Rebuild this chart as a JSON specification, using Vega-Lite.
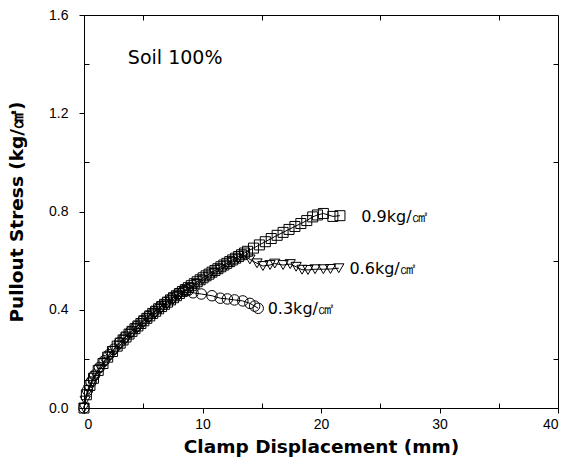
{
  "$schema": "https://vega.github.io/schema/vega-lite/v6.json",
  "width": 474,
  "height": 393,
  "autosize": {"type": "none"},
  "padding": {"left": 84, "top": 15, "right": 6, "bottom": 57},
  "background": "white",
  "config": {
    "view": {"stroke": "black", "strokeWidth": 1},
    "axis": {"domainColor": "black", "tickColor": "black", "labelColor": "black", "titleColor": "black", "grid": false, "labelFont": "Liberation Sans", "labelFontSize": 14, "titleFont": "DejaVu Sans", "titleFontSize": 18.5, "titleFontWeight": "bold"}
  },
  "datasets": {
    "curves": [
      {"series": "0.9", "x": 0, "y": 0}, {"series": "0.9", "x": 0.2, "y": 0.054}, {"series": "0.9", "x": 0.5, "y": 0.092}, {"series": "0.9", "x": 0.8, "y": 0.121}, {"series": "0.9", "x": 1.2, "y": 0.153}, {"series": "0.9", "x": 1.6, "y": 0.181}, {"series": "0.9", "x": 2.0, "y": 0.207}, {"series": "0.9", "x": 2.4, "y": 0.230}, {"series": "0.9", "x": 2.8, "y": 0.252}, {"series": "0.9", "x": 3.05, "y": 0.264}, {"series": "0.9", "x": 3.3, "y": 0.277}, {"series": "0.9", "x": 3.55, "y": 0.289}, {"series": "0.9", "x": 3.8, "y": 0.301}, {"series": "0.9", "x": 4.05, "y": 0.312}, {"series": "0.9", "x": 4.3, "y": 0.323}, {"series": "0.9", "x": 4.55, "y": 0.334}, {"series": "0.9", "x": 4.8, "y": 0.344}, {"series": "0.9", "x": 5.05, "y": 0.355}, {"series": "0.9", "x": 5.3, "y": 0.365}, {"series": "0.9", "x": 5.55, "y": 0.375}, {"series": "0.9", "x": 5.8, "y": 0.385}, {"series": "0.9", "x": 6.05, "y": 0.394}, {"series": "0.9", "x": 6.3, "y": 0.404}, {"series": "0.9", "x": 6.55, "y": 0.413}, {"series": "0.9", "x": 6.8, "y": 0.422}, {"series": "0.9", "x": 7.05, "y": 0.431}, {"series": "0.9", "x": 7.3, "y": 0.440}, {"series": "0.9", "x": 7.55, "y": 0.449}, {"series": "0.9", "x": 7.8, "y": 0.457}, {"series": "0.9", "x": 8.05, "y": 0.466}, {"series": "0.9", "x": 8.3, "y": 0.474}, {"series": "0.9", "x": 8.55, "y": 0.482}, {"series": "0.9", "x": 8.8, "y": 0.490}, {"series": "0.9", "x": 9.05, "y": 0.498}, {"series": "0.9", "x": 9.3, "y": 0.506}, {"series": "0.9", "x": 9.55, "y": 0.514}, {"series": "0.9", "x": 9.8, "y": 0.522}, {"series": "0.9", "x": 10.05, "y": 0.530}, {"series": "0.9", "x": 10.3, "y": 0.538}, {"series": "0.9", "x": 10.55, "y": 0.545}, {"series": "0.9", "x": 10.8, "y": 0.553}, {"series": "0.9", "x": 11.05, "y": 0.560}, {"series": "0.9", "x": 11.3, "y": 0.567}, {"series": "0.9", "x": 11.55, "y": 0.575}, {"series": "0.9", "x": 11.8, "y": 0.582}, {"series": "0.9", "x": 12.05, "y": 0.589}, {"series": "0.9", "x": 12.3, "y": 0.596}, {"series": "0.9", "x": 12.55, "y": 0.603}, {"series": "0.9", "x": 12.8, "y": 0.610}, {"series": "0.9", "x": 13.05, "y": 0.617}, {"series": "0.9", "x": 13.3, "y": 0.624}, {"series": "0.9", "x": 13.55, "y": 0.631}, {"series": "0.9", "x": 13.8, "y": 0.638}, {"series": "0.9", "x": 14.3, "y": 0.651}, {"series": "0.9", "x": 14.8, "y": 0.664}, {"series": "0.9", "x": 15.3, "y": 0.677}, {"series": "0.9", "x": 15.8, "y": 0.690}, {"series": "0.9", "x": 16.3, "y": 0.703}, {"series": "0.9", "x": 16.8, "y": 0.715}, {"series": "0.9", "x": 17.3, "y": 0.727}, {"series": "0.9", "x": 17.8, "y": 0.739}, {"series": "0.9", "x": 18.3, "y": 0.751}, {"series": "0.9", "x": 18.8, "y": 0.763}, {"series": "0.9", "x": 19.3, "y": 0.778}, {"series": "0.9", "x": 19.7, "y": 0.786}, {"series": "0.9", "x": 20.2, "y": 0.792}, {"series": "0.9", "x": 21.0, "y": 0.780}, {"series": "0.9", "x": 21.6, "y": 0.783},
      {"series": "0.6", "x": 0, "y": 0}, {"series": "0.6", "x": 0.1, "y": 0.030}, {"series": "0.6", "x": 0.4, "y": 0.073}, {"series": "0.6", "x": 0.7, "y": 0.104}, {"series": "0.6", "x": 1.0, "y": 0.130}, {"series": "0.6", "x": 1.4, "y": 0.160}, {"series": "0.6", "x": 1.8, "y": 0.186}, {"series": "0.6", "x": 2.2, "y": 0.211}, {"series": "0.6", "x": 2.6, "y": 0.233}, {"series": "0.6", "x": 3.0, "y": 0.254}, {"series": "0.6", "x": 3.5, "y": 0.278}, {"series": "0.6", "x": 4.0, "y": 0.302}, {"series": "0.6", "x": 4.5, "y": 0.324}, {"series": "0.6", "x": 5.0, "y": 0.345}, {"series": "0.6", "x": 5.5, "y": 0.365}, {"series": "0.6", "x": 6.0, "y": 0.384}, {"series": "0.6", "x": 6.5, "y": 0.403}, {"series": "0.6", "x": 7.0, "y": 0.421}, {"series": "0.6", "x": 7.5, "y": 0.439}, {"series": "0.6", "x": 8.0, "y": 0.456}, {"series": "0.6", "x": 8.5, "y": 0.473}, {"series": "0.6", "x": 9.0, "y": 0.489}, {"series": "0.6", "x": 9.5, "y": 0.505}, {"series": "0.6", "x": 10.0, "y": 0.520}, {"series": "0.6", "x": 10.5, "y": 0.535}, {"series": "0.6", "x": 11.0, "y": 0.550}, {"series": "0.6", "x": 11.5, "y": 0.565}, {"series": "0.6", "x": 12.0, "y": 0.580}, {"series": "0.6", "x": 12.5, "y": 0.594}, {"series": "0.6", "x": 13.0, "y": 0.608}, {"series": "0.6", "x": 13.5, "y": 0.621}, {"series": "0.6", "x": 14.0, "y": 0.605}, {"series": "0.6", "x": 14.6, "y": 0.589}, {"series": "0.6", "x": 15.1, "y": 0.578}, {"series": "0.6", "x": 15.7, "y": 0.582}, {"series": "0.6", "x": 16.1, "y": 0.588}, {"series": "0.6", "x": 16.8, "y": 0.582}, {"series": "0.6", "x": 17.4, "y": 0.586}, {"series": "0.6", "x": 17.9, "y": 0.575}, {"series": "0.6", "x": 18.4, "y": 0.563}, {"series": "0.6", "x": 18.9, "y": 0.562}, {"series": "0.6", "x": 19.5, "y": 0.565}, {"series": "0.6", "x": 20.2, "y": 0.565}, {"series": "0.6", "x": 20.8, "y": 0.566}, {"series": "0.6", "x": 21.5, "y": 0.569},
      {"series": "0.3", "x": 0, "y": 0}, {"series": "0.3", "x": 0.3, "y": 0.072}, {"series": "0.3", "x": 0.6, "y": 0.106}, {"series": "0.3", "x": 0.9, "y": 0.134}, {"series": "0.3", "x": 1.3, "y": 0.165}, {"series": "0.3", "x": 1.7, "y": 0.192}, {"series": "0.3", "x": 2.1, "y": 0.217}, {"series": "0.3", "x": 2.5, "y": 0.239}, {"series": "0.3", "x": 3.0, "y": 0.266}, {"series": "0.3", "x": 3.4, "y": 0.286}, {"series": "0.3", "x": 3.9, "y": 0.309}, {"series": "0.3", "x": 4.4, "y": 0.331}, {"series": "0.3", "x": 4.9, "y": 0.353}, {"series": "0.3", "x": 5.4, "y": 0.373}, {"series": "0.3", "x": 5.9, "y": 0.392}, {"series": "0.3", "x": 6.4, "y": 0.411}, {"series": "0.3", "x": 6.9, "y": 0.430}, {"series": "0.3", "x": 7.4, "y": 0.447}, {"series": "0.3", "x": 7.9, "y": 0.464}, {"series": "0.3", "x": 8.4, "y": 0.478}, {"series": "0.3", "x": 8.8, "y": 0.479}, {"series": "0.3", "x": 9.2, "y": 0.469}, {"series": "0.3", "x": 9.9, "y": 0.464}, {"series": "0.3", "x": 10.8, "y": 0.457}, {"series": "0.3", "x": 11.5, "y": 0.447}, {"series": "0.3", "x": 12.1, "y": 0.444}, {"series": "0.3", "x": 12.7, "y": 0.440}, {"series": "0.3", "x": 13.4, "y": 0.436}, {"series": "0.3", "x": 14.0, "y": 0.426}, {"series": "0.3", "x": 14.4, "y": 0.415}, {"series": "0.3", "x": 14.7, "y": 0.406}
    ],
    "labels": [
      {"x": 23.4, "y": 0.778, "text": "0.9kg/㎠", "kind": "series"},
      {"x": 22.4, "y": 0.567, "text": "0.6kg/㎠", "kind": "series"},
      {"x": 15.5, "y": 0.402, "text": "0.3kg/㎠", "kind": "series"},
      {"x": 3.7, "y": 1.424, "text": "Soil 100%", "kind": "note"}
    ]
  },
  "layer": [
    {
      "data": {"name": "curves"},
      "encoding": {
        "x": {
          "field": "x", "type": "quantitative",
          "scale": {"domain": [0, 40], "nice": false, "zero": false},
          "axis": {
            "orient": "bottom",
            "values": [0, 5, 10, 15, 20, 25, 30, 35, 40],
            "labelExpr": "datum.value % 10 === 0 ? datum.label : ''",
            "tickSize": {"condition": {"test": "datum.value % 10 === 0", "value": 5}, "value": -5},
            "labelPadding": 4,
            "title": "Clamp Displacement (mm)",
            "titlePadding": 6
          }
        },
        "y": {
          "field": "y", "type": "quantitative",
          "scale": {"domain": [0, 1.6], "nice": false, "zero": false},
          "axis": {
            "orient": "left",
            "values": [0, 0.2, 0.4, 0.6, 0.8, 1.0, 1.2, 1.4, 1.6],
            "format": ".1f",
            "labelExpr": "round(datum.value * 10) % 4 === 0 ? datum.label : ''",
            "tickSize": {"condition": {"test": "round(datum.value * 10) % 4 === 0", "value": 5}, "value": -5},
            "labelPadding": 11,
            "title": "Pullout Stress (kg/㎠)",
            "titlePadding": 22
          }
        },
        "detail": {"field": "series"}
      },
      "layer": [
        {"mark": {"type": "line", "color": "black", "strokeWidth": 1}},
        {
          "mark": {"type": "point", "filled": false, "stroke": "black", "strokeWidth": 1, "opacity": 1},
          "encoding": {
            "shape": {"field": "series", "type": "nominal", "scale": {"domain": ["0.9", "0.6", "0.3"], "range": ["square", "triangle-down", "circle"]}, "legend": null},
            "size": {"field": "series", "type": "nominal", "scale": {"domain": ["0.9", "0.6", "0.3"], "range": [100, 110, 85]}, "legend": null}
          }
        }
      ]
    },
    {
      "data": {"name": "labels"},
      "mark": {"type": "text", "align": "left", "baseline": "middle", "font": "DejaVu Sans", "color": "black", "fontSize": 16},
      "encoding": {
        "x": {
          "field": "x", "type": "quantitative",
          "scale": {"domain": [0, 40], "nice": false, "zero": false},
          "axis": {"orient": "top", "values": [5, 15, 25, 35], "tickSize": -5, "labels": false, "domain": false, "title": null}
        },
        "y": {
          "field": "y", "type": "quantitative",
          "scale": {"domain": [0, 1.6], "nice": false, "zero": false},
          "axis": {"orient": "right", "values": [0.2, 0.6, 1.0, 1.4], "tickSize": -5, "labels": false, "domain": false, "title": null}
        },
        "text": {"field": "text"},
        "size": {"condition": {"test": "datum.kind === 'note'", "value": 19}, "value": 16}
      }
    }
  ],
  "resolve": {"axis": {"x": "independent", "y": "independent"}}
}
